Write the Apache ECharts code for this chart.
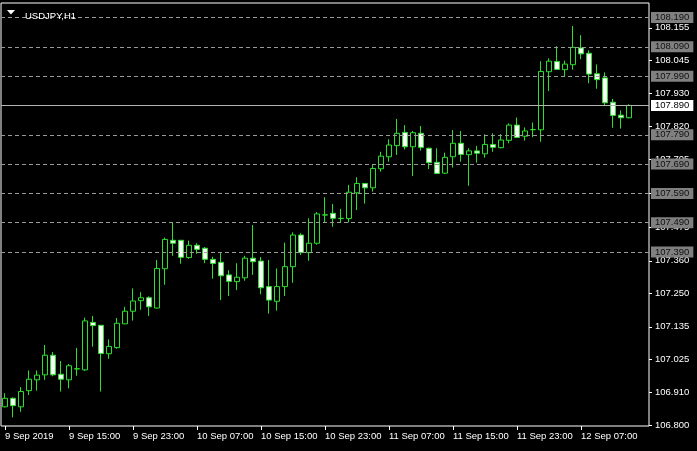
<!DOCTYPE html>
<html><head><meta charset="utf-8">
<script src="https://cdn.jsdelivr.net/npm/echarts@6/dist/echarts.min.js"></script>
<style>html,body{margin:0;padding:0;background:#000}#c{width:697px;height:451px}</style>
</head><body><div id="c"></div>
<script>
const categories = [
 '9 Sep 07:00','9 Sep 08:00','9 Sep 09:00','9 Sep 10:00','9 Sep 11:00','9 Sep 12:00','9 Sep 13:00','9 Sep 14:00','9 Sep 15:00','9 Sep 16:00','9 Sep 17:00','9 Sep 18:00','9 Sep 19:00','9 Sep 20:00','9 Sep 21:00','9 Sep 22:00','9 Sep 23:00',
 '10 Sep 00:00','10 Sep 01:00','10 Sep 02:00','10 Sep 03:00','10 Sep 04:00','10 Sep 05:00','10 Sep 06:00','10 Sep 07:00','10 Sep 08:00','10 Sep 09:00','10 Sep 10:00','10 Sep 11:00','10 Sep 12:00','10 Sep 13:00','10 Sep 14:00','10 Sep 15:00','10 Sep 16:00','10 Sep 17:00','10 Sep 18:00','10 Sep 19:00','10 Sep 20:00','10 Sep 21:00','10 Sep 22:00','10 Sep 23:00',
 '11 Sep 00:00','11 Sep 01:00','11 Sep 02:00','11 Sep 03:00','11 Sep 04:00','11 Sep 05:00','11 Sep 06:00','11 Sep 07:00','11 Sep 08:00','11 Sep 09:00','11 Sep 10:00','11 Sep 11:00','11 Sep 12:00','11 Sep 13:00','11 Sep 14:00','11 Sep 15:00','11 Sep 16:00','11 Sep 17:00','11 Sep 18:00','11 Sep 19:00','11 Sep 20:00','11 Sep 21:00','11 Sep 22:00','11 Sep 23:00',
 '12 Sep 00:00','12 Sep 01:00','12 Sep 02:00','12 Sep 03:00','12 Sep 04:00','12 Sep 05:00','12 Sep 06:00','12 Sep 07:00','12 Sep 08:00','12 Sep 09:00','12 Sep 10:00','12 Sep 11:00','12 Sep 12:00','12 Sep 13:00',
 '', ''
];
const firstLabel = '9 Sep 2019';

const open = [106.862,106.891,106.862,106.917,106.954,106.971,107.038,106.973,106.954,106.991,
 106.988,107.150,107.140,107.043,107.064,107.145,107.188,107.224,107.234,107.199,
 107.333,107.430,107.430,107.371,107.413,107.403,107.365,107.355,107.312,107.289,
 107.302,107.369,107.359,107.272,107.222,107.272,107.340,107.448,107.388,107.420,
 107.516,107.522,107.504,107.504,107.592,107.624,107.609,107.674,107.715,107.753,
 107.798,107.749,107.795,107.744,107.696,107.659,107.715,107.761,107.722,107.735,
 107.725,107.757,107.746,107.771,107.823,107.785,107.807,107.807,108.005,108.040,
 108.012,108.029,108.086,108.068,107.998,107.984,107.901,107.857,107.848];
const close = [106.891,106.866,106.914,106.956,106.970,107.038,106.971,106.956,107.002,106.992,
 107.155,107.139,107.044,107.068,107.147,107.188,107.223,107.234,107.203,107.334,
 107.433,107.420,107.372,107.413,107.399,107.365,107.351,107.309,107.290,107.304,
 107.369,107.357,107.268,107.226,107.272,107.340,107.448,107.388,107.420,107.520,
 107.517,107.505,107.505,107.594,107.624,107.609,107.675,107.717,107.755,107.795,
 107.749,107.797,107.747,107.695,107.658,107.713,107.761,107.723,107.735,107.727,
 107.757,107.747,107.772,107.823,107.781,107.803,107.808,108.006,108.041,108.013,
 108.031,108.088,108.066,107.997,107.978,107.899,107.856,107.848,107.890];
const low = [106.860,106.826,106.845,106.902,106.917,106.954,106.966,106.914,106.925,106.968,
 106.984,107.067,106.914,107.026,107.060,107.144,107.156,107.193,107.172,107.197,
 107.278,107.377,107.350,107.367,107.384,107.352,107.299,107.226,107.240,107.260,
 107.292,107.312,107.246,107.180,107.190,107.240,107.285,107.380,107.360,107.415,
 107.491,107.476,107.491,107.491,107.533,107.555,107.596,107.664,107.698,107.721,
 107.740,107.649,107.736,107.673,107.657,107.656,107.678,107.698,107.616,107.695,
 107.712,107.732,107.744,107.761,107.780,107.770,107.782,107.766,107.939,108.012,
 107.989,108.012,108.048,107.966,107.947,107.891,107.814,107.811,107.846];
const high = [106.908,106.894,106.929,106.986,106.986,107.073,107.049,107.018,107.008,107.063,
 107.166,107.172,107.141,107.092,107.165,107.203,107.266,107.253,107.239,107.363,
 107.439,107.490,107.431,107.429,107.420,107.407,107.374,107.389,107.328,107.352,
 107.377,107.482,107.373,107.363,107.334,107.422,107.457,107.454,107.505,107.526,
 107.577,107.554,107.537,107.619,107.645,107.625,107.690,107.732,107.775,107.844,
 107.823,107.803,107.820,107.746,107.744,107.729,107.806,107.803,107.744,107.752,
 107.792,107.795,107.792,107.829,107.849,107.815,107.832,108.041,108.051,108.092,
 108.043,108.161,108.130,108.078,108.030,108.003,107.912,107.873,107.894];

const yTicks = [108.155,108.045,107.930,107.820,107.705,107.590,107.475,107.360,107.250,107.135,107.025,106.910,106.800];
const levels = [108.190,108.090,107.990,107.790,107.690,107.590,107.490,107.390];
const currentPrice = 107.890;
const yMin = 106.7965, yMax = 108.2395;

const FONT = 'Liberation Sans';
const GREEN = '#2be02b';
const candleData = open.map((o, i) => [o, close[i], low[i], high[i]]);
const showIdx = (i) => i % 8 === 0 && i <= 72;

const markData = levels.map(v => ({
  yAxis: v,
  lineStyle: {type: [4, 3], color: '#9a9a9a', width: 1},
  label: {backgroundColor: '#808080', color: '#101010'}
}));
markData.push({
  yAxis: currentPrice,
  lineStyle: {type: 'solid', color: '#b4b4b4', width: 1},
  label: {backgroundColor: '#ffffff', color: '#000000'}
});

const chart = echarts.init(document.getElementById('c'), null, {renderer: 'canvas'});
chart.setOption({
  animation: false,
  backgroundColor: '#000',
  title: {
    text: 'USDJPY,H1', left: 20, top: 6,
    textStyle: {color: '#fff', fontFamily: FONT, fontSize: 9.5, fontWeight: 'normal'}
  },
  graphic: [{
    type: 'polygon', shape: {points: [[7, 10], [15, 10], [11, 14.5]]},
    style: {fill: '#fff'}
  }],
  grid: {left: 1, right: 48, top: 3, bottom: 25, show: true, borderColor: '#fff', borderWidth: 1, backgroundColor: '#000'},
  xAxis: {
    type: 'category', data: categories, boundaryGap: true,
    axisLine: {show: false},
    axisTick: {show: true, interval: (i) => showIdx(i), alignWithLabel: true, length: 4, lineStyle: {color: '#fff'}},
    axisLabel: {
      interval: (i) => showIdx(i), align: 'left', margin: 5,
      color: '#fff', fontFamily: FONT, fontSize: 9.5,
      formatter: (v, i) => i === 0 ? firstLabel : v
    },
    splitLine: {show: false}
  },
  yAxis: {
    type: 'value', position: 'right', min: yMin, max: yMax,
    axisLine: {show: false},
    axisTick: {show: true, customValues: yTicks, length: 3, lineStyle: {color: '#fff'}},
    axisLabel: {customValues: yTicks, margin: 6, color: '#fff', fontFamily: FONT, fontSize: 9.5,
      formatter: (v) => v.toFixed(3)},
    splitLine: {show: false}
  },
  series: [{
    type: 'candlestick',
    data: candleData,
    barWidth: 5,
    itemStyle: {
      color: '#000000', color0: '#ffffff',
      borderColor: GREEN, borderColor0: GREEN, borderColorDoji: GREEN, borderWidth: 1
    },
    markLine: {
      silent: true, symbol: ['none', 'none'], animation: false,
      label: {
        show: true, position: 'end', distance: 2,
        fontFamily: FONT, fontSize: 9.5, padding: [1, 4, 0, 4], lineHeight: 10,
        formatter: (p) => Number(p.value).toFixed(3)
      },
      data: markData
    }
  }]
});
</script>
</body></html>
